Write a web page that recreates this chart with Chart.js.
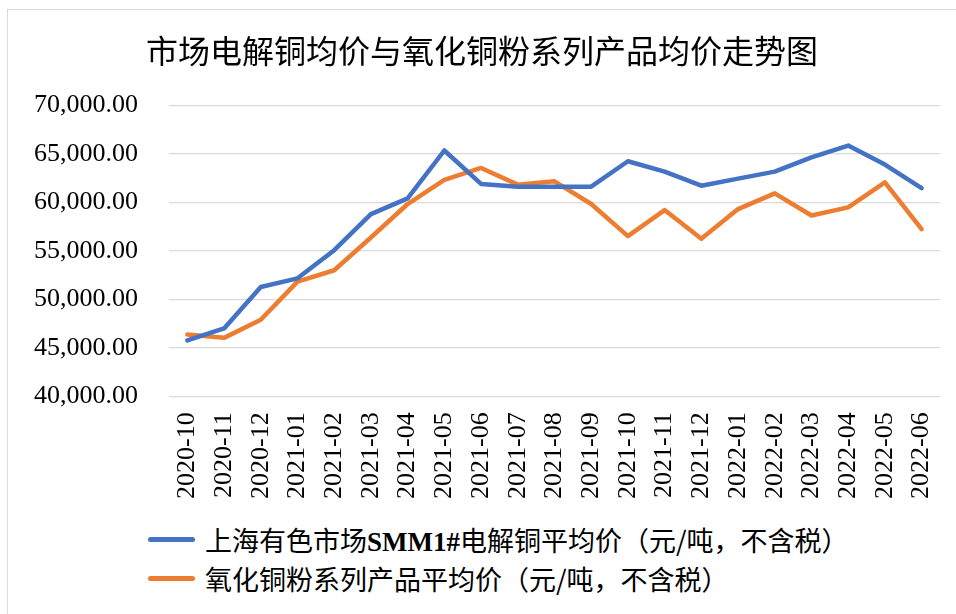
<!DOCTYPE html>
<html>
<head>
<meta charset="utf-8">
<script src="https://cdn.jsdelivr.net/npm/chart.js@4"></script>
<style>
    html, body { margin: 0; padding: 0; background: #fff; overflow: hidden; }
    #wrap { position: relative; width: 956px; height: 614px; overflow: hidden; }
    #frame { position: absolute; left: 7px; top: 9px; width: 980px; height: 640px; border: 1.5px solid #d9d9d9; box-sizing: border-box; }
    #chart { position: absolute; left: 0; top: 0; }
    #legend { position: absolute; left: 148px; top: 520px; font-family: "Noto Sans CJK SC", sans-serif; font-size: 27px; color: #000; }
    .row { display: flex; align-items: center; height: 39px; }
    .swatch { width: 47px; height: 4.5px; border-radius: 3px; margin-right: 10px; }
    .latin { font-family: "Liberation Serif", serif; font-weight: bold; }
</style>
</head>
<body>
<div id="wrap">
    <div id="frame"></div>
    <canvas id="chart" width="969" height="520"></canvas>
    <div id="legend"></div>
</div>
<script>
// 數據
const categories = ['2020-10', '2020-11', '2020-12', '2021-01', '2021-02', '2021-03', '2021-04',
    '2021-05', '2021-06', '2021-07', '2021-08', '2021-09', '2021-10', '2021-11', '2021-12',
    '2022-01', '2022-02', '2022-03', '2022-04', '2022-05', '2022-06'];
const smmCopper = [45760, 47000, 51280, 52170, 55070, 58790, 60410, 65350, 61900, 61620, 61620,
    61620, 64240, 63170, 61720, 62450, 63170, 64650, 65860, 63900, 61480];
const oxideCopper = [46380, 46030, 47900, 51830, 53000, 56380, 59830, 62310, 63550, 61830, 62170,
    59830, 56520, 59210, 56240, 59310, 60930, 58650, 59480, 62070, 57240];
const yTicks = [40000, 45000, 50000, 55000, 60000, 65000, 70000];

const TITLE = '市场电解铜均价与氧化铜粉系列产品均价走势图';
const SERIES = [
    { html: '上海有色市场<span class="latin">SMM1#</span>电解铜平均价（元/吨，不含税）', color: '#4472c4', data: smmCopper },
    { html: '氧化铜粉系列产品平均价（元/吨，不含税）', color: '#ed7d31', data: oxideCopper }
];

const serif = '"Liberation Serif", "Times New Roman", serif';

new Chart(document.getElementById('chart'), {
    type: 'line',
    data: {
        labels: categories,
        datasets: SERIES.map(s => ({
            data: s.data,
            borderColor: s.color,
            backgroundColor: s.color,
            borderWidth: 4.5,
            borderCapStyle: 'round',
            borderJoinStyle: 'round',
            pointRadius: 0,
            tension: 0,
            fill: false
        }))
    },
    options: {
        responsive: false,
        animation: false,
        devicePixelRatio: 1,
        layout: { padding: { left: 3, right: 8, top: 0, bottom: 5 } },
        plugins: {
            legend: { display: false },
            tooltip: { enabled: false },
            title: {
                display: true,
                text: TITLE,
                color: '#000',
                font: { family: '"Noto Sans CJK SC", sans-serif', size: 32, weight: 'normal' },
                padding: { top: 32, bottom: 35 }
            }
        },
        scales: {
            x: {
                offset: true,
                grid: { display: false, drawTicks: false },
                border: { display: false },
                ticks: {
                    color: '#000',
                    font: { family: serif, size: 26 },
                    minRotation: 90, maxRotation: 90,
                    autoSkip: false,
                    padding: 16
                }
            },
            y: {
                min: 40000, max: 70000,
                afterBuildTicks: axis => { axis.ticks = yTicks.map(v => ({ value: v })); },
                grid: { color: '#d9d9d9', lineWidth: 1.3, drawTicks: false },
                border: { display: false },
                ticks: {
                    color: '#000',
                    font: { family: serif, size: 26 },
                    padding: 31,
                    callback: v => v.toLocaleString('en-US', { minimumFractionDigits: 2, maximumFractionDigits: 2 })
                }
            }
        }
    }
});

const legend = document.getElementById('legend');
SERIES.forEach(s => {
    const row = document.createElement('div');
    row.className = 'row';
    row.innerHTML = `<span class="swatch" style="background:${s.color}"></span><span>${s.html}</span>`;
    legend.appendChild(row);
});
</script>
</body>
</html>
